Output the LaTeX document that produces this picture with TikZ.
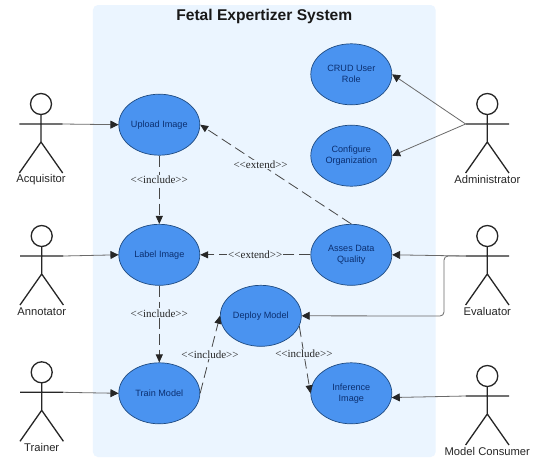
\documentclass[tikz,border=0pt]{standalone}
\usepackage{fontspec}
\setmainfont{Liberation Sans}
\newfontfamily\serifl{Liberation Serif}
\usetikzlibrary{shapes.geometric,arrows.meta}
\definecolor{panel}{HTML}{EBF5FF}
\definecolor{ucfill}{HTML}{4A93F0}
\definecolor{ucline}{HTML}{1E4A80}
\definecolor{uctext}{HTML}{0B2F70}
\definecolor{ink}{HTML}{262626}
\definecolor{wire}{HTML}{6A6A6A}
\tikzset{
  usecase/.style={ellipse,draw=ucline,line width=0.7pt,fill=ucfill,minimum width=81pt,minimum height=61pt,inner sep=0pt,
    align=center,text=uctext,font=\fontsize{9.1}{11}\selectfont},
  actorname/.style={inner sep=0pt,text=ink,font=\fontsize{11.2}{13}\selectfont},
  stereo/.style={fill=panel,inner sep=1pt,text=ink,font=\serifl\fontsize{11}{13}\selectfont},
  assoc/.style={draw=wire,line width=0.8pt,-{Triangle[length=8pt,width=8pt,color=ink]}},
  dep/.style={draw=ink!85,line width=0.8pt,dash pattern=on 11pt off 5pt,-{Triangle[length=8pt,width=7pt,color=ink]}},
  actor/.pic={
    \draw[ink,line width=1.3pt] (0,-20) circle (10.5);
    \draw[ink,line width=1.3pt] (0,-9.5) -- (0,18) (-21.7,0) -- (21.7,0) (-21.7,49) -- (0,18) -- (21.7,49);
    \coordinate (-l) at (-21.7,0);
    \coordinate (-r) at (21.7,0);
  }
}
\begin{document}
\begin{tikzpicture}[x=1pt,y=-1pt]
\useasboundingbox (0,0) rectangle (540,464);
\fill[white] (0,0) rectangle (540,464);
\node[fill=panel,rounded corners=5pt,minimum width=342.7pt,minimum height=452pt,inner sep=0pt] (system) at (264.3,231) {};
\node[font=\bfseries\fontsize{15.6}{18}\selectfont,text=black!90,inner sep=0pt] (title) at (264.3,16) {Fetal Expertizer System};

\node[usecase] (upload) at (159.3,124.7) {Upload Image};
\node[usecase] (label) at (159.3,254.8) {Label Image};
\node[usecase] (train) at (159.3,393.3) {Train Model};
\node[usecase] (deploy) at (260.8,315.8) {Deploy Model};
\node[usecase] (crud) at (351.3,74.3) {CRUD User\\Role};
\node[usecase] (config) at (351.3,155.7) {Configure\\Organization};
\node[usecase] (assess) at (351.3,254.8) {Asses Data\\Quality};
\node[usecase] (infer) at (351.3,393.3) {Inference\\Image};

\pic (acq) at (41,124) {actor};
\pic (ann) at (41.7,256) {actor};
\pic (tra) at (41.7,392.3) {actor};
\pic (adm) at (487.3,124) {actor};
\pic (eva) at (487.3,256) {actor};
\pic (con) at (487.3,396) {actor};

\node[actorname] (acqn) at (41,179.7) {Acquisitor};
\node[actorname] (annn) at (41.7,311.7) {Annotator};
\node[actorname] (tran) at (41.7,447.7) {Trainer};
\node[actorname] (admn) at (487.3,179.7) {Administrator};
\node[actorname] (evan) at (487.3,311.7) {Evaluator};
\node[actorname] (conn) at (487.3,451) {Model Consumer};

\draw[assoc] (acq-r) -- (upload.west);
\draw[assoc] (ann-r) -- (label.west);
\draw[assoc] (tra-r) -- (train.west);
\draw[assoc] (adm-l) -- (crud.east);
\draw[assoc] (adm-l) -- (config.east);
\draw[assoc] (eva-l) -- (assess.east);
\draw[assoc,rounded corners=4pt] (eva-l) -- (444,256) -- (444,316) -- (deploy.east);
\draw[assoc] (con-l) -- (infer.-6);

\draw[dep] (upload.south) -- node[stereo,pos=0.36] (inc1) {<<include>>} (label.north);
\draw[dep] (label.south) -- node[stereo,pos=0.36] (inc2) {<<include>>} (train.north);
\draw[dep] (assess.north) -- node[stereo,pos=0.6] (ext1) {<<extend>>} (upload.east);
\draw[dep] (assess.west) -- node[stereo,pos=0.5] (ext2) {<<extend>>} (label.east);
\draw[dep] (train.east) -- node[stereo,pos=0.5] (inc3) {<<include>>} (deploy.west);
\draw[dep] (deploy.-15) -- node[stereo,pos=0.41] (inc4) {<<include>>} (infer.west);
\end{tikzpicture}
\end{document}
